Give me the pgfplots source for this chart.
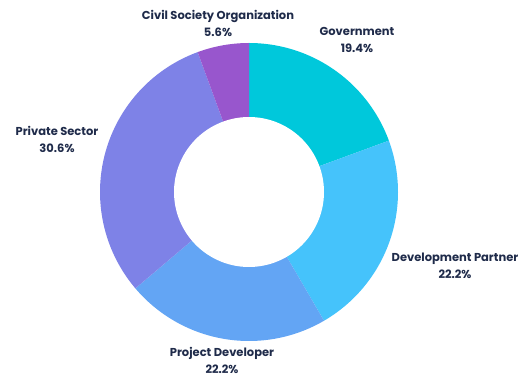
\documentclass[border=0pt]{standalone}
\usepackage{pgfplots}
\pgfplotsset{compat=1.18}
\usepackage{fontspec}
\setmainfont{Poppins}
\definecolor{cGov}{HTML}{00C8DB}
\definecolor{cDev}{HTML}{45C3FB}
\definecolor{cProj}{HTML}{63A5F4}
\definecolor{cPriv}{HTML}{7E82E7}
\definecolor{cCiv}{HTML}{9856CD}
\definecolor{txt}{HTML}{1F2B4A}

% shares (percent), clockwise from 12 o'clock
\def\vGov{19.4}
\def\vDev{22.2}
\def\vProj{22.2}
\def\vPriv{30.6}
\def\vCiv{5.6}

\begin{document}
\begin{tikzpicture}
\pgfmathsetmacro\aA{90}
\pgfmathsetmacro\aB{\aA-3.6*\vGov}
\pgfmathsetmacro\aC{\aB-3.6*\vDev}
\pgfmathsetmacro\aD{\aC-3.6*\vProj}
\pgfmathsetmacro\aE{\aD-3.6*\vPriv}
\pgfmathsetmacro\aF{\aE-3.6*\vCiv}
\def\R{149}
\def\r{75}
\def\cx{249}
\def\cy{193}
\useasboundingbox (0,0) rectangle (527pt,385pt);
\begin{axis}[
  at={(0,0)}, anchor=origin,
  x=1pt, y=1pt,
  xmin=0, xmax=527, ymin=0, ymax=385,
  hide axis, clip=false,
  samples=80,
]
\addplot[fill=cGov, draw=none, domain=\aB:\aA]
  ({\cx+\R*cos(x)},{\cy+\R*sin(x)}) -- (axis cs:\cx,\cy) -- cycle;
\addplot[fill=cDev, draw=none, domain=\aC:\aB]
  ({\cx+\R*cos(x)},{\cy+\R*sin(x)}) -- (axis cs:\cx,\cy) -- cycle;
\addplot[fill=cProj, draw=none, domain=\aD:\aC]
  ({\cx+\R*cos(x)},{\cy+\R*sin(x)}) -- (axis cs:\cx,\cy) -- cycle;
\addplot[fill=cPriv, draw=none, domain=\aE:\aD]
  ({\cx+\R*cos(x)},{\cy+\R*sin(x)}) -- (axis cs:\cx,\cy) -- cycle;
\addplot[fill=cCiv, draw=none, domain=\aF:\aE]
  ({\cx+\R*cos(x)},{\cy+\R*sin(x)}) -- (axis cs:\cx,\cy) -- cycle;
% hole
\addplot[fill=white, draw=none, domain=0:360, samples=120]
  ({\cx+\r*cos(x)},{\cy+\r*sin(x)}) -- cycle;

\begin{scope}[every node/.style={font=\bfseries\fontsize{11.5}{17}\selectfont, text=txt, align=center}]
\node at (axis cs:218,362) {Civil Society Organization\\5.6\%};
\node at (axis cs:357,345) {Government\\19.4\%};
\node at (axis cs:57,245.5) {Private Sector\\30.6\%};
\node at (axis cs:455,119) {Development Partner\\22.2\%};
\node at (axis cs:222,25) {Project Developer\\22.2\%};
\end{scope}
\end{axis}
\end{tikzpicture}
\end{document}
